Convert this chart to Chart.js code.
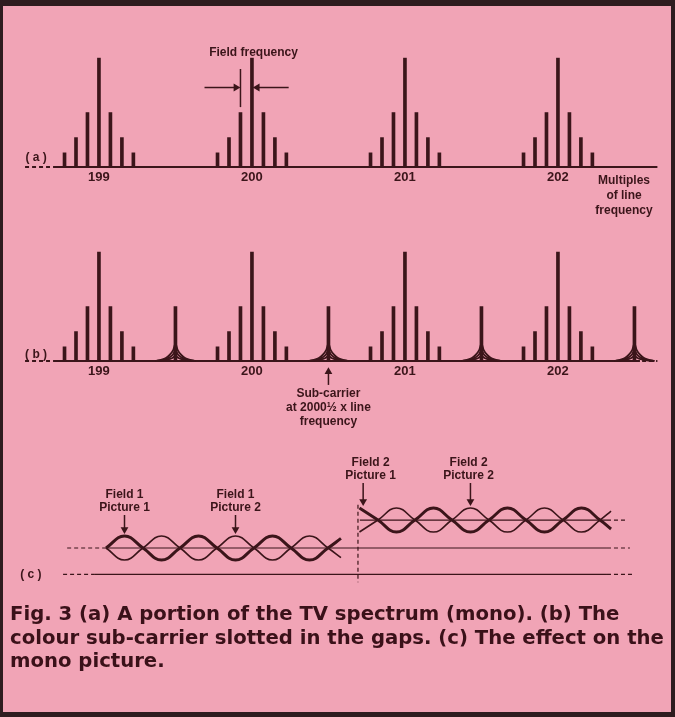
<!DOCTYPE html>
<html>
<head>
<meta charset="utf-8">
<title>Fig. 3 - TV spectrum and colour sub-carrier</title>
<script src="https://cdn.jsdelivr.net/npm/chart.js@4.4.1/dist/chart.umd.min.js"></script>
<style>
  html, body { margin: 0; padding: 0; }
  body { width: 675px; height: 717px; position: relative; overflow: hidden; background: #f1a4b6; }
  .frame { position: absolute; left: 0; top: 0; width: 675px; height: 717px; box-sizing: border-box;
           border: solid #2e1c1f; border-width: 6px 4px 5px 3px; pointer-events: none; }
  canvas { position: absolute; left: 0; }
  #chart-a { top: 0; }
  #chart-b { top: 194px; }
  #chart-c { top: 440px; }
  .caption { position: absolute; left: 10px; top: 602px; font: bold 21px "DejaVu Sans", sans-serif;
             line-height: 23.5px; color: #3a1119; white-space: nowrap; }
</style>
</head>
<body>
<canvas id="chart-a" width="675" height="230"></canvas>
<canvas id="chart-b" width="675" height="240"></canvas>
<canvas id="chart-c" width="675" height="170"></canvas>
<div class="caption" id="caption">Fig. 3 (a) A portion of the TV spectrum (mono). (b) The<br>colour sub-carrier slotted in the gaps. (c) The effect on the<br>mono picture.</div>
<div class="frame"></div>
<script>
const INK = "#3b151a";
const LABEL_FONT = 'bold 12px "Liberation Sans", Arial, sans-serif';

// Spectrum, x in multiples of line frequency, y relative to the main line
const harmonics = [199, 200, 201, 202];
const harmonicLabels = ["199", "200", "201", "202"];
const sidebandSteps = [-3, -2, -1, 0, 1, 2, 3];
const sidebandAmps = [0.13, 0.27, 0.5, 1, 0.5, 0.27, 0.13];
const fieldStep = 0.075; // field-frequency spacing as drawn
const subcarriers = [199.5, 200.5, 201.5, 202.5];
const subcarrierAmp = 0.5;
// flared base of each sub-carrier line
const cuspDx = [-0.13, -0.09, -0.06, -0.035, -0.015, 0, 0.015, 0.035, 0.06, 0.09, 0.13];
const cuspRise = [0, 0.012, 0.03, 0.06, 0.1, 0.16, 0.1, 0.06, 0.03, 0.012, 0];
const cuspLayers = [1, 0.62, 0.32];

// (c) dot pattern on the mono picture, x in half-cycles of the sub-carrier
const field1X = [0, 0.5, 1, 1.5, 2, 2.5, 3, 3.5, 4, 4.5, 5, 5.5, 6, 6.35];
const field1Wave = [0, 1, 0, -1, 0, 1, 0, -1, 0, 1, 0, -1, 0, 0.8];
const field2X = [6.85, 7.35, 7.85, 8.35, 8.85, 9.35, 9.85, 10.35, 10.85, 11.35, 11.85, 12.35, 12.85, 13.35, 13.65];
const field2Wave = [1, 0, -1, 0, 1, 0, -1, 0, 1, 0, -1, 0, 1, 0, -0.75];
const field1Level = 0;
const field2Level = 2.33;
const blackLevel = -2.2;
const fieldChange = 6.81;

const X_MIN = 198.484, X_MAX = 202.667, Y_MAX = 1.35;

function spectrumLines(centres) {
  const pts = [];
  centres.forEach(c => {
    sidebandSteps.forEach((k, i) => pts.push({ x: c + k * fieldStep, y: sidebandAmps[i] }));
  });
  return pts;
}

function stems(points) {
  return { type: "bar", data: points, backgroundColor: INK, barThickness: 3, grouped: false, borderWidth: 0 };
}

function segment(x0, y0, x1, y1, width, dash) {
  return {
    type: "line", data: [{ x: x0, y: y0 }, { x: x1, y: y1 }],
    borderColor: INK, borderWidth: width || 2, borderDash: dash || [],
    pointRadius: 0, tension: 0, clip: false
  };
}

function arrow(x0, y0, x1, y1, rot) {
  return {
    type: "line", data: [{ x: x0, y: y0 }, { x: x1, y: y1 }],
    borderColor: INK, borderWidth: 1.5, tension: 0, clip: false,
    pointRadius: [0, 4.5], pointStyle: "triangle", pointRotation: [0, rot],
    pointBackgroundColor: INK, pointBorderColor: INK, pointBorderWidth: 0
  };
}

function wave(xs, ws, level, sign, width) {
  return {
    type: "line", data: xs.map((x, i) => ({ x, y: level + sign * ws[i] })),
    borderColor: INK, borderWidth: width, pointRadius: 0, tension: 0.45, clip: false
  };
}

// text drawn at data coordinates of the chart's own scales
function notes(items) {
  return {
    id: "notes",
    afterDatasetsDraw(chart) {
      const { ctx } = chart;
      const xs = chart.scales.x, ys = chart.scales.y;
      ctx.save();
      ctx.fillStyle = INK;
      ctx.textAlign = "center";
      ctx.textBaseline = "middle";
      items.forEach(n => {
        ctx.font = n.font || LABEL_FONT;
        ctx.fillText(n.text, xs.getPixelForValue(n.x), ys.getPixelForValue(n.y));
      });
      ctx.restore();
    }
  };
}

// yMin < 0 keeps the area below the baseline inside the plot; the axis then sits on y = 0
function spectrumOptions(yMin, padBottom) {
  const xAxis = {
    type: "linear", min: X_MIN, max: X_MAX, offset: false,
    grid: { display: false, drawTicks: false },
    border: { display: false },
    afterBuildTicks: axis => { axis.ticks = harmonics.map(v => ({ value: v })); },
    ticks: {
      color: INK, padding: 3, maxRotation: 0, autoSkip: false,
      font: { family: '"Liberation Sans", Arial, sans-serif', size: 13, weight: "bold" },
      callback: (v, i) => harmonicLabels[i]
    }
  };
  if (yMin < 0) {
    xAxis.position = { y: 0 };
  } else {
    xAxis.afterFit = axis => { axis.height = 30; };
  }
  return {
    responsive: false,
    animation: false,
    events: [],
    layout: { padding: { left: 20, right: 15, top: 20, bottom: padBottom } },
    plugins: { legend: { display: false }, tooltip: { enabled: false } },
    scales: {
      x: xAxis,
      y: { display: false, min: yMin, max: Y_MAX }
    }
  };
}

// (a) mono spectrum
new Chart(document.getElementById("chart-a"), {
  type: "bar",
  data: {
    datasets: [
      stems(spectrumLines(harmonics)),
      segment(198.517, 0, 198.68, 0, 2, [4, 3]),
      segment(198.7, 0, 202.65, 0, 2),
      segment(200 - fieldStep, 0.55, 200 - fieldStep, 0.9, 1.5),
      arrow(199.69, 0.73, 200 - fieldStep - 0.03, 0.73, 90),
      arrow(200.24, 0.73, 200.035, 0.73, 270)
    ]
  },
  options: spectrumOptions(0, 33),
  plugins: [notes([
    { text: "Field frequency", x: 200.01, y: 1.05 },
    { text: "( a )", x: 198.589, y: 0.085 },
    { text: "Multiples", x: 202.432, y: -0.128 },
    { text: "of line", x: 202.432, y: -0.266 },
    { text: "frequency", x: 202.432, y: -0.404 }
  ])]
});

// (b) with the colour sub-carrier in the gaps
const cuspSets = cuspLayers.map(k => ({
  type: "line",
  data: subcarriers.flatMap(c => [
    ...cuspDx.map((d, i) => ({ x: c + d, y: cuspRise[i] * k })),
    { x: c + 0.2, y: null }
  ]),
  borderColor: INK, borderWidth: 1.8, pointRadius: 0, tension: 0.3, spanGaps: false, clip: false
}));

new Chart(document.getElementById("chart-b"), {
  type: "bar",
  data: {
    datasets: [
      stems(spectrumLines(harmonics)),
      stems(subcarriers.map(x => ({ x, y: subcarrierAmp }))),
      ...cuspSets,
      segment(198.517, 0, 198.68, 0, 2, [4, 3]),
      segment(198.7, 0, 202.536, 0, 2),
      segment(202.55, 0, 202.65, 0, 2, [4, 3]),
      arrow(200.5, -0.22, 200.5, -0.1, 0)
    ]
  },
  options: spectrumOptions(-0.6, 7.7),
  plugins: [notes([
    { text: "( b )", x: 198.589, y: 0.06 },
    { text: "Sub-carrier", x: 200.5, y: -0.296 },
    { text: "at 2000\u00bd x line", x: 200.5, y: -0.426 },
    { text: "frequency", x: 200.5, y: -0.556 }
  ])]
});

// (c) effect on the mono picture
new Chart(document.getElementById("chart-c"), {
  type: "line",
  data: {
    datasets: [
      wave(field1X, field1Wave, field1Level, 1, 3),
      wave(field1X, field1Wave, field1Level, -1, 1.6),
      wave(field2X, field2Wave, field2Level, 1, 3),
      wave(field2X, field2Wave, field2Level, -1, 1.6),
      segment(-1.05, field1Level, 0, field1Level, 1.2, [4, 3]),
      segment(0, field1Level, 13.54, field1Level, 1.2),
      segment(13.54, field1Level, 14.16, field1Level, 1.2, [4, 3]),
      segment(fieldChange + 0.05, field2Level, 13.54, field2Level, 1.2),
      segment(13.54, field2Level, 14.1, field2Level, 1.2, [4, 3]),
      segment(-1.16, blackLevel, -0.3, blackLevel, 1.4, [4, 3]),
      segment(-0.3, blackLevel, 13.54, blackLevel, 1.4),
      segment(13.54, blackLevel, 14.24, blackLevel, 1.4, [4, 3]),
      segment(fieldChange, 3.6, fieldChange, -2.85, 1.2, [4, 3]),
      arrow(0.5, 2.75, 0.5, 1.54, 180),
      arrow(3.5, 2.75, 3.5, 1.54, 180),
      arrow(6.95, 5.42, 6.95, 3.875, 180),
      arrow(9.85, 5.42, 9.85, 3.875, 180)
    ]
  },
  options: {
    responsive: false,
    animation: false,
    events: [],
    layout: { padding: { left: 32, right: 14, top: 36, bottom: 14 } },
    plugins: { legend: { display: false }, tooltip: { enabled: false } },
    scales: {
      x: { type: "linear", display: false, min: -2, max: 15 },
      y: { display: false, min: -4, max: 6 }
    }
  },
  plugins: [notes([
    { text: "( c )", x: -2.03, y: blackLevel },
    { text: "Field 1", x: 0.5, y: 4.42 },
    { text: "Picture 1", x: 0.5, y: 3.33 },
    { text: "Field 1", x: 3.5, y: 4.42 },
    { text: "Picture 2", x: 3.5, y: 3.33 },
    { text: "Field 2", x: 7.15, y: 7.08 },
    { text: "Picture 1", x: 7.15, y: 6.0 },
    { text: "Field 2", x: 9.8, y: 7.08 },
    { text: "Picture 2", x: 9.8, y: 6.0 }
  ])]
});

// stretch the caption so its longest line spans the frame, as in the print
const caption = document.getElementById("caption");
const capWidth = caption.getBoundingClientRect().width;
caption.style.fontSize = (21 * 654 / capWidth).toFixed(2) + "px";
</script>
</body>
</html>
